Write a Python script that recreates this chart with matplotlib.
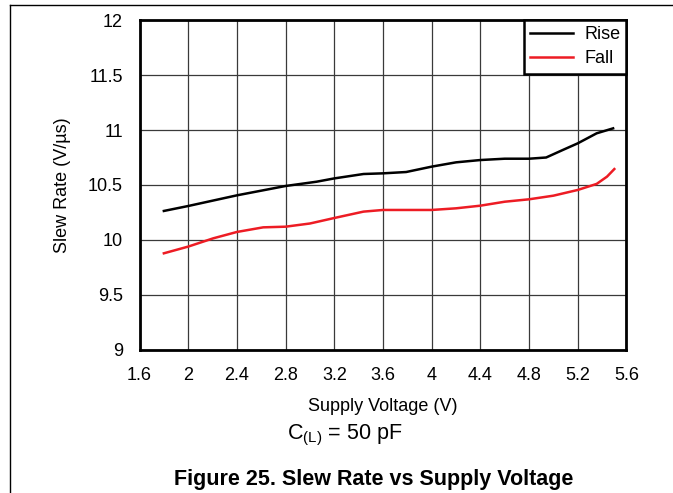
import matplotlib
matplotlib.use("Agg")
import matplotlib.pyplot as plt
from matplotlib.lines import Line2D

plt.rcParams['font.family'] = ['Liberation Sans', 'DejaVu Sans']
plt.rcParams['mathtext.fontset'] = 'custom'
plt.rcParams['mathtext.rm'] = 'Liberation Sans'

rise_v = [1.80, 2.00, 2.40, 2.80, 3.055, 3.20, 3.44, 3.60, 3.79, 4.00, 4.20, 4.40, 4.60, 4.80, 4.94, 5.08, 5.20, 5.355, 5.49]
rise_sr = [10.264, 10.309, 10.406, 10.491, 10.53, 10.56, 10.60, 10.606, 10.618, 10.667, 10.706, 10.727, 10.739, 10.739, 10.75, 10.82, 10.879, 10.97, 11.015]

fall_v = [1.80, 2.00, 2.205, 2.40, 2.616, 2.80, 3.00, 3.20, 3.44, 3.60, 4.00, 4.20, 4.40, 4.60, 4.80, 5.00, 5.20, 5.355, 5.44, 5.50]
fall_sr = [9.879, 9.94, 10.015, 10.073, 10.115, 10.121, 10.15, 10.20, 10.258, 10.273, 10.273, 10.288, 10.312, 10.348, 10.37, 10.403, 10.455, 10.51, 10.576, 10.645]

x_ticks = [1.6, 2.0, 2.4, 2.8, 3.2, 3.6, 4.0, 4.4, 4.8, 5.2, 5.6]
x_labels = ['1.6', '2', '2.4', '2.8', '3.2', '3.6', '4', '4.4', '4.8', '5.2', '5.6']
y_ticks = [9, 9.5, 10, 10.5, 11, 11.5, 12]
y_labels = ['9', '9.5', '10', '10.5', '11', '11.5', '12']

fig = plt.figure(figsize=(6.73, 4.93), dpi=100)
ax = fig.add_axes([0.2073, 0.2901, 0.7236, 0.6693])

ax.plot(rise_v, rise_sr, color='black', lw=1.8, label='Rise', zorder=3,
        solid_joinstyle='round')
ax.plot(fall_v, fall_sr, color='#ed1c24', lw=1.8, label='Fall', zorder=3,
        solid_joinstyle='round')

ax.set_xlim(1.6, 5.6)
ax.set_ylim(9, 12)
ax.set_xticks(x_ticks)
ax.set_xticklabels(x_labels)
ax.set_yticks(y_ticks)
ax.set_yticklabels(y_labels)
ax.tick_params(axis='both', length=0, labelsize=13)
ax.tick_params(axis='x', pad=12.5)
ax.tick_params(axis='y', pad=12)
ax.grid(True, color='#3a3a3a', lw=0.9)
ax.set_axisbelow(True)
for s in ax.spines.values():
    s.set_linewidth(2)
    s.set_color('black')

ax.set_xlabel('Supply Voltage (V)', fontsize=13, labelpad=9.5)
ax.set_ylabel('Slew Rate (V/µs)', fontsize=13, labelpad=12)

leg = ax.legend(loc='upper right', bbox_to_anchor=(1.0, 1.0), borderaxespad=0,
                fancybox=False, framealpha=1, edgecolor='black', fontsize=13,
                handlelength=2.4, handletextpad=0.6, labelspacing=0.38,
                borderpad=0.35)
leg.get_frame().set_linewidth(1.8)
leg.set_zorder(5)

fig.text(0.512, 1 - 435 / 493, r'C$_{\mathrm{(L)}}$ = 50 pF', fontsize=15.5,
         ha='center', va='center')
fig.text(0.555, 1 - 480 / 493, 'Figure 25. Slew Rate vs Supply Voltage',
         fontsize=15.5, fontweight='bold', ha='center', va='center')

fig.add_artist(Line2D([10 / 673, 10 / 673], [0, 1 - 5 / 493], transform=fig.transFigure,
                      color='black', lw=1))
fig.add_artist(Line2D([10 / 673, 1], [1 - 5 / 493, 1 - 5 / 493], transform=fig.transFigure,
                      color='black', lw=1))

fig.savefig('out.png', dpi=100)
